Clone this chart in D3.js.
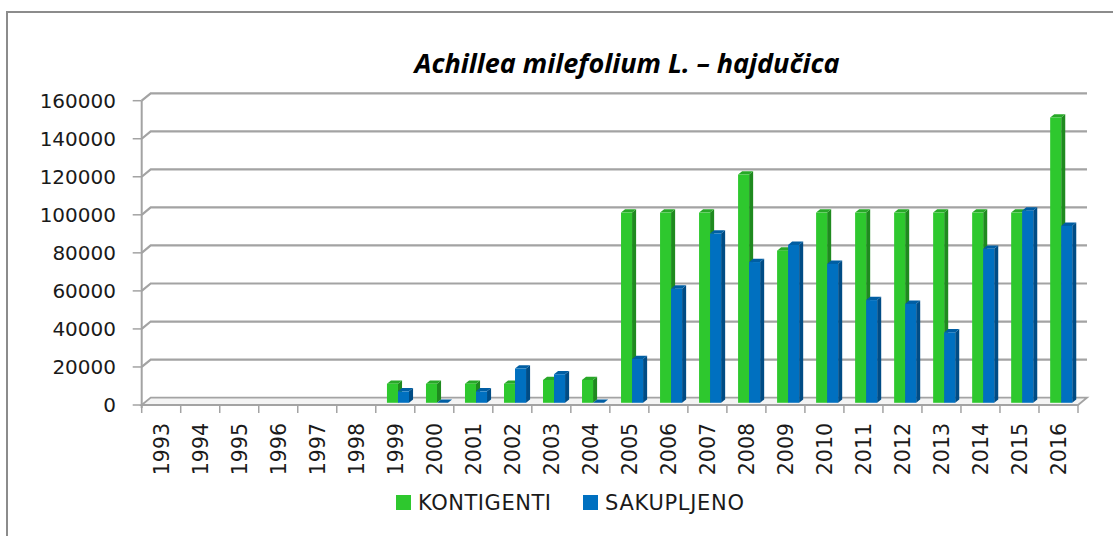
<!DOCTYPE html>
<html>
<head>
<meta charset="utf-8">
<script src="https://cdn.jsdelivr.net/npm/d3@7"></script>
<style>
  body { margin: 0; background: #fff; }
  text { font-family: "DejaVu Sans", sans-serif; fill: #1a1a1a; }
</style>
</head>
<body>
<div class="graph"></div>
<script>
// chart data
const years = ['1993','1994','1995','1996','1997','1998','1999','2000','2001','2002','2003','2004',
  '2005','2006','2007','2008','2009','2010','2011','2012','2013','2014','2015','2016'];
const kontigenti = [null,null,null,null,null,null,10000,10000,10000,10000,12000,12000,
  100000,100000,100000,120000,80000,100000,100000,100000,100000,100000,100000,150000];
const sakupljeno = [null,null,null,null,null,null,6000,0,6000,18000,15000,0,
  23000,60000,89000,74000,83000,73000,54000,52000,37000,81000,101000,93000];
const yTicks = [0,20000,40000,60000,80000,100000,120000,140000,160000];
const seriesNames = ['KONTIGENTI','SAKUPLJENO'];
const title = 'Achillea milefolium L. – hajdučica';

const W = 1113, H = 536;
const front = {left: 141.7, right: 1078, bottom: 405, top: 100.7};
const depth = {dx: 9, dy: -7.4};

var svg = d3.select('.graph').append('svg')
  .attr('width', W).attr('height', H);

// outer frame
svg.append('path')
  .attr('d', 'M7,' + (H + 5) + 'V12H' + (W + 5))
  .attr('fill', 'none').attr('stroke', '#8c8c8c').attr('stroke-width', 2);

svg.append('text')
  .attr('x', 627).attr('y', 73)
  .attr('text-anchor', 'middle')
  .style('font-family', '"Open Sans", sans-serif')
  .style('font-size', '27px').style('font-weight', 'bold').style('font-style', 'italic')
  .style('fill', '#000')
  .text(title);

var x = d3.scaleBand().domain(years).range([front.left, front.right]);
var xs = d3.scaleBand().domain(seriesNames).range([0, x.bandwidth()]).paddingOuter(0.77);
var y = d3.scaleLinear().domain([0, 160000]).range([front.bottom, front.top]);

// gridlines on back wall + side diagonals
var grid = svg.append('g');
yTicks.forEach(function(v) {
  if (v > 0) {
    grid.append('path')
      .attr('d', 'M' + front.left + ',' + y(v) + 'L' + (front.left + depth.dx) + ',' + (y(v) + depth.dy) +
        'H' + (front.right + depth.dx))
      .attr('fill', 'none').attr('stroke', '#a3a3a3').attr('stroke-width', 2.2);
  }
  grid.append('line')
    .attr('x1', front.left - 9).attr('x2', front.left)
    .attr('y1', y(v)).attr('y2', y(v))
    .attr('stroke', '#a3a3a3').attr('stroke-width', 1.5);
});

// floor
var fb = front.bottom;
svg.append('path')
  .attr('d', 'M' + front.left + ',' + fb + 'L' + (front.left + depth.dx) + ',' + (fb + depth.dy) +
    'H' + (front.right + depth.dx) + 'L' + front.right + ',' + fb + 'Z')
  .attr('fill', '#f4f4f4').attr('stroke', '#a3a3a3').attr('stroke-width', 1.8);

// y axis line
svg.append('line')
  .attr('x1', front.left).attr('x2', front.left)
  .attr('y1', y(160000)).attr('y2', fb + 3)
  .attr('stroke', '#a3a3a3').attr('stroke-width', 2);

// x ticks
svg.append('g').selectAll('line')
  .data(years.concat(['end']))
  .enter().append('line')
  .attr('x1', function(d) { return d == 'end' ? front.right : x(d); })
  .attr('x2', function(d) { return d == 'end' ? front.right : x(d); })
  .attr('y1', fb).attr('y2', fb + 8)
  .attr('stroke', '#a3a3a3').attr('stroke-width', 1.5);

// y labels
svg.append('g').selectAll('text')
  .data(yTicks)
  .enter().append('text')
  .attr('x', 116).attr('y', function(d) { return y(d) + 7; })
  .attr('text-anchor', 'end')
  .style('font-size', '20px')
  .text(function(d) { return d; });

// x labels
svg.append('g').selectAll('text')
  .data(years)
  .enter().append('text')
  .attr('transform', function(d) {
    return 'translate(' + (x(d) + x.bandwidth() / 2 + 7.5) + ',423) rotate(-90)';
  })
  .attr('text-anchor', 'end')
  .style('font-size', '20.5px')
  .text(function(d) { return d; });

// 3D bars
const colors = {
  KONTIGENTI: {front: '#2ec82e', side: '#1f8a1f', top: '#28a828'},
  SAKUPLJENO: {front: '#0070c0', side: '#004c85', top: '#005ea3'}
};
const d0 = 0.3, d1 = 0.75;
var bars = svg.append('g');
years.forEach(function(yr, i) {
  [kontigenti, sakupljeno].forEach(function(arr, s) {
    var v = arr[i];
    if (v === null) return;
    var name = seriesNames[s];
    var c = colors[name];
    var bx = x(yr) + xs(name) + depth.dx * d0;
    var bw = xs.bandwidth();
    var yt = y(v) + depth.dy * d0;
    var yb = fb + depth.dy * d0;
    var ddx = depth.dx * (d1 - d0), ddy = depth.dy * (d1 - d0);
    // side
    bars.append('path')
      .attr('d', 'M' + (bx + bw) + ',' + yb + 'V' + yt + 'L' + (bx + bw + ddx) + ',' + (yt + ddy) +
        'V' + (yb + ddy) + 'Z')
      .attr('fill', c.side);
    // top
    bars.append('path')
      .attr('d', 'M' + bx + ',' + yt + 'L' + (bx + ddx) + ',' + (yt + ddy) + 'H' + (bx + bw + ddx) +
        'L' + (bx + bw) + ',' + yt + 'Z')
      .attr('fill', c.top);
    // front
    bars.append('rect')
      .attr('x', bx).attr('y', yt)
      .attr('width', bw).attr('height', Math.max(0, yb - yt))
      .attr('fill', c.front);
  });
});

// legend
var legend = svg.append('g').selectAll('g')
  .data(seriesNames)
  .enter().append('g')
  .attr('transform', function(d, i) { return 'translate(' + (i == 0 ? 396 : 583) + ',495)'; });
legend.append('rect')
  .attr('width', 15).attr('height', 15)
  .attr('fill', function(d) { return colors[d].front; });
legend.append('text')
  .attr('x', 22).attr('y', 15)
  .attr('textLength', function(d, i) { return i == 0 ? 133 : 139; })
  .style('font-size', '21px')
  .text(function(d) { return d; });
</script>
</body>
</html>
